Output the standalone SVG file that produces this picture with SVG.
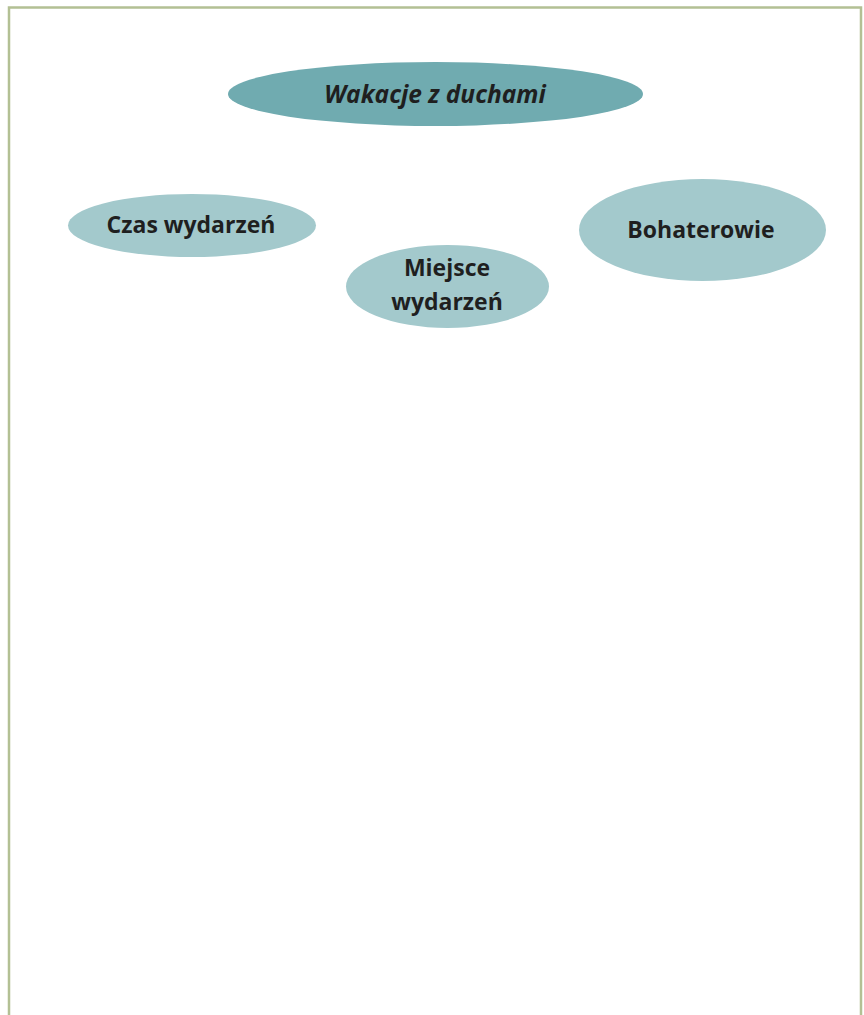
<svg xmlns="http://www.w3.org/2000/svg" width="864" height="1015" viewBox="0 0 864 1015">
<style>
.t{font-family:"Open Sans","Noto Sans","Liberation Sans",sans-serif;font-weight:bold;font-size:23px;fill:#1f1f1f;text-anchor:middle}
.ti{font-style:italic;font-size:24.5px}
.light{fill:#a3c9cc}
</style>
<rect x="0" y="0" width="864" height="1015" fill="#ffffff"/>
<path d="M9,1015 V7.5 H861 V1015" fill="none" stroke="#b3c094" stroke-width="2.5"/>
<g id="connectors"></g>
<g id="title">
<ellipse cx="435.5" cy="94" rx="207.5" ry="32" fill="#70abb0"/>
<text class="t ti" x="435" y="102.5">Wakacje z duchami</text>
</g>
<g id="czas">
<ellipse class="light" cx="192" cy="225.5" rx="124" ry="31.5"/>
<text class="t" x="191" y="233">Czas wydarzeń</text>
</g>
<g id="miejsce">
<ellipse class="light" cx="447.5" cy="286.5" rx="101.5" ry="41.5"/>
<text class="t" x="447" y="276">Miejsce</text>
<text class="t" x="447" y="310">wydarzeń</text>
</g>
<g id="bohaterowie">
<ellipse class="light" cx="702.5" cy="230" rx="123.5" ry="51"/>
<text class="t" x="701" y="238">Bohaterowie</text>
</g>
</svg>
